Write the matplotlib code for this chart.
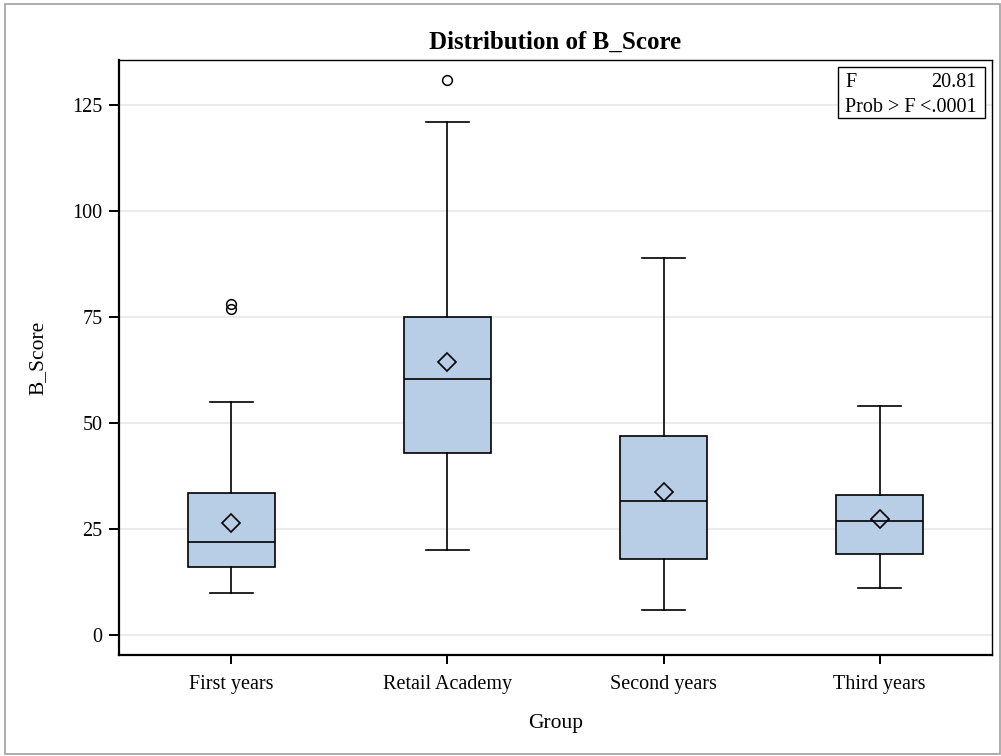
import matplotlib
matplotlib.use("Agg")
import matplotlib.pyplot as plt
from matplotlib.patches import Rectangle

plt.rcParams['font.family'] = ['Liberation Serif', 'DejaVu Serif']

# === Datos ===
grupos = ["First years", "Retail Academy", "Second years", "Third years"]
bigote_bajo = [10, 20, 6, 11]
q1 = [16, 43, 18, 19]
mediana = [22, 60.5, 31.5, 27]
q3 = [33.5, 75, 47, 33]
bigote_alto = [55, 121, 89, 54]
media = [26.5, 64.5, 33.8, 27.4]
atipicos = [[77, 78], [131], [], []]

f_valor = "20.81"
prob_f = "<.0001"

stats = []
for i, g in enumerate(grupos):
    stats.append({
        "label": g, "whislo": bigote_bajo[i], "q1": q1[i], "med": mediana[i],
        "q3": q3[i], "whishi": bigote_alto[i], "mean": media[i],
        "fliers": atipicos[i],
    })

fig = plt.figure(figsize=(10.01, 7.56), dpi=100)
ax = fig.add_axes([0.1189, 0.1336, 0.8721, 0.787])

# marco exterior gris
fig.patches.append(Rectangle((0.005, 0.002), 0.994, 0.993, transform=fig.transFigure,
                             fill=False, edgecolor="#a0a0a0", linewidth=1.2))

ax.bxp(stats, positions=range(len(grupos)), widths=0.4, patch_artist=True,
       showmeans=True, showfliers=True,
       boxprops=dict(facecolor="#b8cde6", edgecolor="black", linewidth=1.2),
       medianprops=dict(color="black", linewidth=1.2),
       whiskerprops=dict(color="black", linewidth=1.2),
       capprops=dict(color="black", linewidth=1.2),
       capwidths=0.2,
       meanprops=dict(marker="D", markerfacecolor="none", markeredgecolor="black",
                      markersize=9, markeredgewidth=1.2),
       flierprops=dict(marker="o", markerfacecolor="none", markeredgecolor="black",
                       markersize=7, markeredgewidth=1.1),
       zorder=3)

ax.set_xlim(-0.52, 3.52)
ax.set_ylim(-4.7, 135.6)
ax.set_yticks([0, 25, 50, 75, 100, 125])
ax.set_xticks(range(len(grupos)))
ax.set_xticklabels(grupos)
ax.grid(axis="y", color="#e8e8e8", linewidth=1.2, zorder=0)
ax.set_axisbelow(True)

for s in ["left", "bottom"]:
    ax.spines[s].set_linewidth(1.6)
for s in ["top", "right"]:
    ax.spines[s].set_linewidth(1.0)
ax.tick_params(axis="y", direction="out", length=7, width=1.4, labelsize=14.5, pad=5)
ax.tick_params(axis="x", direction="out", length=6.5, width=1.4, labelsize=14.5, pad=8)

ax.set_title("Distribution of B_Score", fontsize=18, fontweight="bold", pad=8)
ax.set_xlabel("Group", fontsize=15.5, labelpad=14)
ax.set_ylabel("B_Score", fontsize=15.5, labelpad=18)

# cuadro de estadisticos F
ax.add_patch(Rectangle((0.8236, 0.9025), 0.1684, 0.0857, transform=ax.transAxes,
                       fill=True, facecolor="white", edgecolor="black", linewidth=1.0,
                       zorder=5))
ax.text(0.8316, 0.963, "F", transform=ax.transAxes, fontsize=14.5, va="center", zorder=6)
ax.text(0.9828, 0.963, f_valor, transform=ax.transAxes, fontsize=14.5, va="center",
        ha="right", zorder=6)
ax.text(0.8316, 0.921, "Prob > F", transform=ax.transAxes, fontsize=14.5, va="center", zorder=6)
ax.text(0.9828, 0.921, prob_f, transform=ax.transAxes, fontsize=14.5, va="center",
        ha="right", zorder=6)

plt.savefig("out.png", dpi=100)
